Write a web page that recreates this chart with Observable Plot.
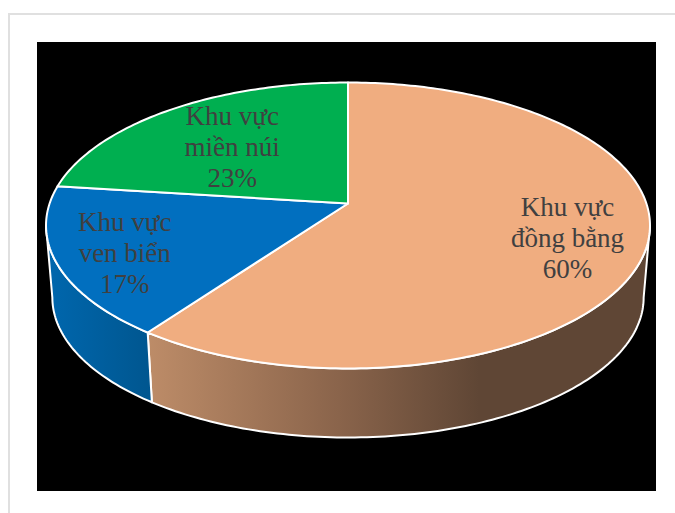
<!DOCTYPE html>
<html lang="vi">
<head>
<meta charset="utf-8">
<title>Cơ cấu theo khu vực</title>
<script src="https://cdn.jsdelivr.net/npm/d3@7"></script>
<script src="https://cdn.jsdelivr.net/npm/@observablehq/plot@0.6"></script>
<style>
  html, body { margin: 0; padding: 0; background: #fff; overflow: hidden; }
  #sheet {
    position: absolute; left: 8px; top: 13px; width: 667px; height: 500px;
    box-sizing: border-box;
    border-left: 2px solid #e0e0e0; border-top: 2px solid #e0e0e0;
  }
  #chart { position: absolute; left: 37px; top: 42px; width: 619px; height: 449px; }
  #chart svg { display: block; background: #000; }
</style>
</head>
<body>
<div id="sheet"></div>
<div id="chart"></div>
<script>
// Shares by region, in slice order clockwise from twelve o'clock.
const regions = ["Khu vực\nđồng bằng", "Khu vực\nven biển", "Khu vực\nmiền núi"];
const shares = [60, 17, 23];
const topColors = ["#f0ad80", "#016fbf", "#00af50"];

// Size of the frame and the perspective of the tilted disc.
const width = 619, height = 449;
const originX = 310.5, originY = 161;     // where the disc's centre lands
const unitX = 298.4, unitY = 139.6;       // pixels per projected unit
const tilt = 0.1538;                      // far edge shrinks, near edge grows
const baseScale = 0.979;                  // lower rim is slightly narrower
const baseDrop = 72.5 / unitY;            // lower rim sits this far below

// Perspective projection of a point on the unit disc, theta clockwise from top.
function project(theta, r = 1, base = false) {
  const u = r * Math.sin(theta), v = r * Math.cos(theta), w = 1 + tilt * v;
  const s = base ? baseScale : 1;
  return {x: s * u / w, y: s * v / w - (base ? baseDrop : 0)};
}

const arcs = d3.pie().sort(null).value((d) => d)(shares);
const step = Math.PI / 180;
const sweep = (a0, a1) => [...d3.range(a0, a1, step), a1];

// Top face of each slice: centre, then its stretch of the rim.
const faces = arcs.flatMap((a, i) => [
  {slice: i, ...project(0, 0)},
  ...sweep(a.startAngle, a.endAngle).map((t) => ({slice: i, ...project(t)})),
  {slice: i, ...project(0, 0)}
]);

// The wall is visible between the two silhouette points of the rim.
const wallStart = Math.acos(-tilt), wallEnd = 2 * Math.PI - wallStart;
function wall(i) {
  const a0 = Math.max(arcs[i].startAngle, wallStart);
  const a1 = Math.min(arcs[i].endAngle, wallEnd);
  if (a1 <= a0) return [];
  const ts = sweep(a0, a1);
  const ring = [...ts.map((t) => project(t)), ...ts.slice().reverse().map((t) => project(t, 1, true))];
  return [...ring, ring[0]];
}

// Shaded walls; the light falls from the lower left.
const gradients = () => {
  const defs = d3.create("svg:defs");
  const add = (id, stops) => {
    const g = defs.append("linearGradient").attr("id", id);
    for (const [o, c] of stops) g.append("stop").attr("offset", o).attr("stop-color", c);
  };
  add("wall-plains", [[0, "#bd8c68"], [0.38, "#8a644b"], [0.66, "#5f4635"], [1, "#5f4635"]]);
  add("wall-coast", [[0, "#0067ae"], [1, "#00568f"]]);
  return defs.node();
};

// Label anchors: mid-angle of each slice at a fixed radius, nudged into place.
const labelRadius = 0.7;
const labelNudge = [[14, 2], [-23, 8], [12, 10]];
const labels = arcs.map((a, i) => ({
  ...project((a.startAngle + a.endAngle) / 2, labelRadius),
  text: `${regions[i]}\n${shares[i]}%`,
  dx: labelNudge[i][0],
  dy: labelNudge[i][1]
}));

const rim = {stroke: "#fff", strokeWidth: 2, strokeLinejoin: "round"};

const plot = Plot.plot({
  width, height,
  margin: 0,
  style: {background: "#000"},
  x: {domain: [-originX / unitX, (width - originX) / unitX], axis: null},
  y: {domain: [(originY - height) / unitY, originY / unitY], axis: null},
  color: {type: "ordinal", domain: d3.range(shares.length), range: topColors},
  marks: [
    gradients,
    Plot.line(wall(0), {x: "x", y: "y", fill: "url(#wall-plains)", ...rim}),
    Plot.line(wall(1), {x: "x", y: "y", fill: "url(#wall-coast)", ...rim}),
    Plot.line(faces, {x: "x", y: "y", z: "slice", fill: "slice", ...rim}),
    ...labels.map((d) => Plot.text([d], {
      x: "x", y: "y", text: "text", dx: d.dx, dy: d.dy,
      fontFamily: "Liberation Serif", fontSize: 27, lineHeight: 1.15,
      fill: "#404040", textAnchor: "middle"
    }))
  ]
});
document.getElementById("chart").append(plot);
</script>
</body>
</html>
